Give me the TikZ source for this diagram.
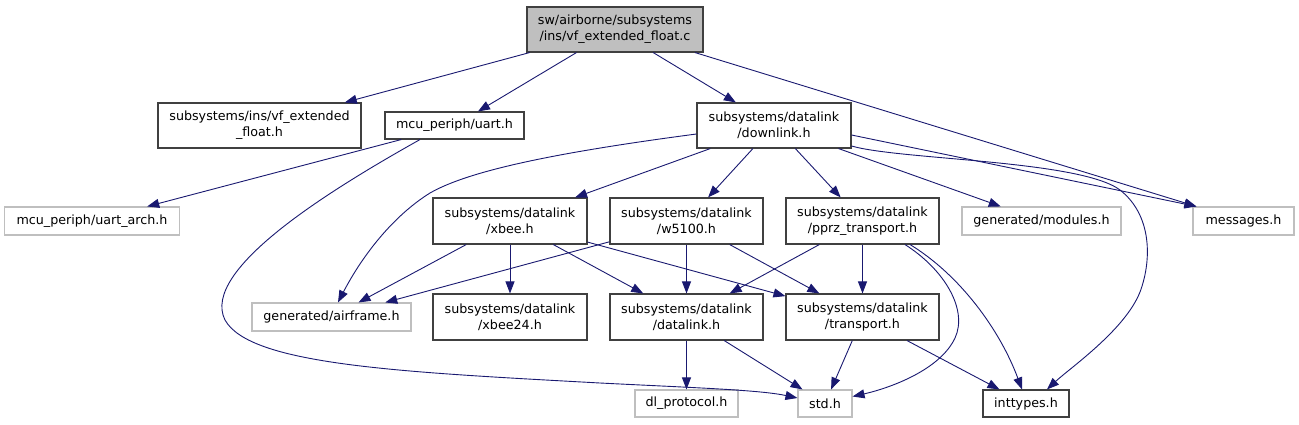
\documentclass[tikz,border=0pt]{standalone}
\usepackage{fontspec}
\setmainfont{DejaVu Sans}
\usetikzlibrary{arrows.meta,calc}
\definecolor{edgeblue}{HTML}{191970}
\definecolor{grayline}{HTML}{BFBFBF}
\definecolor{topfill}{HTML}{BFBFBF}
\definecolor{boxline}{HTML}{404040}
\begin{document}
\begin{tikzpicture}[x=1pt,y=-1pt,
  font=\fontsize{12.7}{16}\selectfont,
  box/.style={draw=boxline, line width=1.1pt, inner sep=0pt, align=center, fill=white},
  gbox/.style={draw=grayline, line width=1.1pt, inner sep=0pt, align=center, fill=white},
  dep/.style={draw=edgeblue, line width=0.9pt, -{Triangle[length=12pt,width=9pt]}, fill=none}
]
\useasboundingbox (0,0) rectangle (1299,424);
% nodes
\node[box, fill=topfill, minimum width=176pt, minimum height=45pt] (top) at (615,29.5) {sw/airborne/subsystems\\/ins/vf\_extended\_float.c};
\node[box, minimum width=203pt, minimum height=45pt] (vf) at (259.5,125.5) {subsystems/ins/vf\_extended\\\_float.h};
\node[box, minimum width=139pt, minimum height=27pt] (uart) at (454.5,125.5) {mcu\_periph/uart.h};
\node[box, minimum width=154pt, minimum height=45pt] (down) at (774,125.5) {subsystems/datalink\\/downlink.h};
\node[gbox, minimum width=175pt, minimum height=28pt] (uarch) at (92,221) {mcu\_periph/uart\_arch.h};
\node[gbox, minimum width=159pt, minimum height=28pt] (mods) at (1041.5,221) {generated/modules.h};
\node[gbox, minimum width=101pt, minimum height=28pt] (msgs) at (1243.5,221) {messages.h};
\node[box, minimum width=154pt, minimum height=46pt] (xbee) at (510,221) {subsystems/datalink\\/xbee.h};
\node[box, minimum width=153pt, minimum height=46pt] (w51) at (686.5,221) {subsystems/datalink\\/w5100.h};
\node[box, minimum width=153pt, minimum height=46pt] (pprz) at (862.5,221) {subsystems/datalink\\/pprz\_transport.h};
\node[gbox, minimum width=159pt, minimum height=28pt] (airf) at (331.5,317) {generated/airframe.h};
\node[box, minimum width=154pt, minimum height=46pt] (xb24) at (510,317) {subsystems/datalink\\/xbee24.h};
\node[box, minimum width=153pt, minimum height=46pt] (dlink) at (686.5,317) {subsystems/datalink\\/datalink.h};
\node[box, minimum width=153pt, minimum height=46pt] (trans) at (862.5,317) {subsystems/datalink\\/transport.h};
\node[gbox, minimum width=103pt, minimum height=27pt] (dlp) at (686.5,403.5) {dl\_protocol.h};
\node[gbox, minimum width=54pt, minimum height=27pt] (std) at (825,403.5) {std.h};
\node[box, minimum width=86pt, minimum height=27pt] (intt) at (1026,403.5) {inttypes.h};
% edges
\draw[dep] (top) -- (vf);
\draw[dep] (top) -- (uart);
\draw[dep] (top) -- (down);
\draw[dep] ($(top.south)+(80,0)$) -- ($(msgs.north west)+(4,0)$);
\draw[dep] (uart) -- (uarch);
\draw[dep] ($(uart.south)+(-34.5,0)$) .. controls (330,190) and (200,270) .. (225,320)
   .. controls (250,365) and (400,372) .. (600,383) .. controls (700,388) and (760,390) .. ($(std.west)+(0,-5.5)$);
\draw[dep] ($(down.west)+(0,8.5)$) .. controls (560,152) and (470,170) .. (430,193)
   .. controls (390,218) and (360,260) .. ($(airf.north)+(6.5,0)$);
\draw[dep] (down) -- (xbee);
\draw[dep] (down) -- (w51);
\draw[dep] (down) -- (pprz);
\draw[dep] (down) -- (mods);
\draw[dep] ($(down.east)+(0,9.5)$) -- ($(msgs.north west)+(4,0)$);
\draw[dep] ($(down.east)+(0,20.5)$) .. controls (900,160) and (1080,160) .. (1120,190)
   .. controls (1152,215) and (1152,260) .. (1140,292) .. controls (1125,330) and (1070,368) .. ($(intt.north)+(21,0)$);
\draw[dep] (xbee) -- (airf);
\draw[dep] (xbee) -- (xb24);
\draw[dep] (xbee) -- (dlink);
\draw[dep] (xbee) -- (trans);
\draw[dep] (w51) -- (airf);
\draw[dep] (w51) -- (dlink);
\draw[dep] (w51) -- (trans);
\draw[dep] (pprz) -- (dlink);
\draw[dep] (pprz) -- (trans);
\draw[dep] ($(pprz.south)+(42.5,0)$) .. controls (945,270) and (968,310) .. (955,338)
   .. controls (940,370) and (890,388) .. ($(std.east)+(0,-7)$);
\draw[dep] ($(pprz.south)+(47.5,0)$) .. controls (960,275) and (1000,330) .. ($(intt.north)+(-4,0)$);
\draw[dep] (dlink) -- (dlp);
\draw[dep] (dlink) -- (std);
\draw[dep] (trans) -- (std);
\draw[dep] (trans) -- (intt);
\end{tikzpicture}
\end{document}
